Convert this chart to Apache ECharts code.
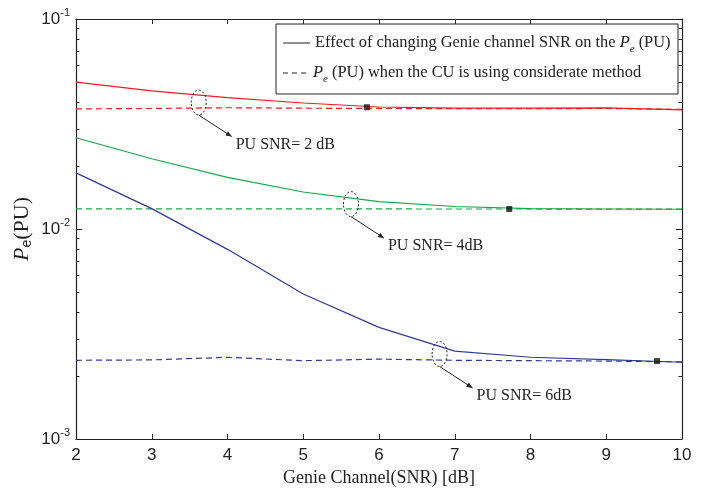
<!DOCTYPE html>
<html><head><meta charset="utf-8">
<script src="https://cdn.jsdelivr.net/npm/echarts@6/dist/echarts.min.js"></script>
<style>html,body{margin:0;padding:0;background:#fff}#c{width:704px;height:492px}</style>
</head><body><div id="c"></div>
<script>
// ---- data ----
const xValues   = [2, 3, 4, 5, 6, 7, 8, 9, 10];
const redSolid  = [0.0500, 0.0455, 0.0422, 0.0398, 0.0381, 0.0376, 0.0376, 0.0377, 0.0369];
const redDash   = [0.0373, 0.0375, 0.0378, 0.0376, 0.0375, 0.0374, 0.0374, 0.0375, 0.0371];
const greenSolid= [0.0272, 0.0216, 0.0176, 0.0150, 0.0135, 0.0128, 0.01250, 0.01245, 0.01242];
const greenDash = [0.01248, 0.01247, 0.01246, 0.01247, 0.01246, 0.01245, 0.01245, 0.01244, 0.01243];
const blueSolid = [0.0185, 0.0125, 0.0080, 0.0049, 0.0034, 0.00262, 0.00245, 0.00239, 0.00232];
const blueDash  = [0.00237, 0.00238, 0.00245, 0.00236, 0.00240, 0.00237, 0.00236, 0.00235, 0.00233];
const markerX   = [5.84, 7.72, 9.67];
const markerY   = [0.0380, 0.01245, 0.00235];
const yMinorTicks = [0.002,0.003,0.004,0.005,0.006,0.007,0.008,0.009,0.02,0.03,0.04,0.05,0.06,0.07,0.08,0.09];
const annoText  = ['PU SNR= 2 dB', 'PU SNR= 4dB', 'PU SNR= 6dB'];
const annoX     = [3.62, 5.63, 6.80];
const annoY     = [0.0400, 0.01314, 0.00254];
const legendText1 = 'Effect of changing Genie channel SNR on the ';
const legendText2 = ' when the CU is using considerate method';

const RED = '#ee1c25', GREEN = '#14a84a', BLUE = '#2e3a9a', INK = '#222';
const pair = (ys) => xValues.map((x, i) => [x, ys[i]]);

const chart = echarts.init(document.getElementById('c'), null, {renderer: 'canvas'});
const tickLbl = {color: INK, fontFamily: 'Liberation Sans', fontSize: 17};
function lineSeries(ys, color, dashed) {
  return {type: 'line', data: pair(ys), symbol: 'none', silent: true,
    lineStyle: {color: color, width: 1.2, type: dashed ? [6, 4] : 'solid'}, z: 3};
}
const yBase = {type: 'log', logBase: 10, min: 0.001, max: 0.1, gridIndex: 0, splitLine: {show: false}};
const option = {
  animation: false,
  grid: {left: 76, right: 22, top: 19, bottom: 53},
  xAxis: [
    {type: 'value', min: 2, max: 10, interval: 1, position: 'bottom',
     axisLine: {lineStyle: {color: INK, width: 1.2}}, splitLine: {show: false},
     axisTick: {inside: true, length: 5, lineStyle: {color: INK}},
     axisLabel: Object.assign({margin: 8}, tickLbl),
     name: 'Genie Channel(SNR) [dB]', nameLocation: 'middle', nameGap: 30,
     nameTextStyle: {color: INK, fontFamily: 'Liberation Serif', fontSize: 18}},
    {type: 'value', min: 2, max: 10, interval: 1, position: 'top',
     axisLine: {lineStyle: {color: INK, width: 1.2}}, splitLine: {show: false},
     axisTick: {inside: true, length: 5, lineStyle: {color: INK}}, axisLabel: {show: false}}
  ],
  yAxis: [
    Object.assign({}, yBase, {position: 'left', interval: 1,
      axisLine: {show: true, lineStyle: {color: INK, width: 1.2}},
      axisTick: {inside: true, length: 6, lineStyle: {color: INK}},
      axisLabel: {margin: 6, formatter: (v) => '{b|10}{s|' + Math.round(Math.log10(v)) + '}',
        rich: {b: tickLbl, s: {color: INK, fontFamily: 'Liberation Sans', fontSize: 11, padding: [0, 0, 12, 0]}}}}),
    Object.assign({}, yBase, {position: 'left', axisLine: {show: false},
      axisTick: {inside: true, length: 3.5, customValues: yMinorTicks, lineStyle: {color: INK}},
      axisLabel: {show: false}}),
    Object.assign({}, yBase, {position: 'right', interval: 1,
      axisLine: {show: true, lineStyle: {color: INK, width: 1.2}},
      axisTick: {inside: true, length: 6, lineStyle: {color: INK}}, axisLabel: {show: false}}),
    Object.assign({}, yBase, {position: 'right', axisLine: {show: false},
      axisTick: {inside: true, length: 3.5, customValues: yMinorTicks, lineStyle: {color: INK}},
      axisLabel: {show: false}})
  ],
  series: [
    lineSeries(redDash, RED, true), lineSeries(redSolid, RED, false),
    lineSeries(greenDash, GREEN, true), lineSeries(greenSolid, GREEN, false),
    lineSeries(blueDash, BLUE, true), lineSeries(blueSolid, BLUE, false),
    {type: 'scatter', data: markerX.map((x, i) => [x, markerY[i]]), symbol: 'rect', symbolSize: 6,
     itemStyle: {color: '#111'}, z: 5, silent: true}
  ]
};
chart.setOption(option);

const px = (x, y) => chart.convertToPixel({xAxisIndex: 0, yAxisIndex: 0}, [x, y]);
const g = [];
annoText.forEach((t, i) => {
  const [cx, cy] = px(annoX[i], annoY[i]);
  g.push({type: 'ellipse', shape: {cx: cx, cy: cy, rx: 7.5, ry: 12.5}, z: 20,
    style: {fill: 'none', stroke: INK, lineWidth: 1, lineDash: [2, 2]}});
  const x1 = cx, y1 = cy + 12.5, x2 = cx + 33, y2 = cy + 34;
  g.push({type: 'line', shape: {x1: x1, y1: y1, x2: x2, y2: y2}, z: 20, style: {stroke: INK, lineWidth: 1}});
  const a = Math.atan2(y2 - y1, x2 - x1), L = 6, W = 2.5;
  const bx = x2 - L * Math.cos(a), by = y2 - L * Math.sin(a);
  g.push({type: 'polygon', z: 20, shape: {points: [[x2, y2], [bx + W * Math.sin(a), by - W * Math.cos(a)], [bx - W * Math.sin(a), by + W * Math.cos(a)]]},
    style: {fill: INK}});
  g.push({type: 'text', x: cx + 37, y: cy + 42, z: 20,
    style: {text: t, font: '16px "Liberation Serif"', fill: INK, verticalAlign: 'middle'}});
});
// legend box
const serif = 'Liberation Serif';
const lgRich = {
  n: {fontFamily: serif, fontSize: 16.4, fill: INK},
  i: {fontFamily: serif, fontSize: 16.4, fontStyle: 'italic', fill: INK},
  sub: {fontFamily: serif, fontSize: 11, fontStyle: 'italic', fill: INK, padding: [12, 0, 0, 0]}
};
g.push({type: 'rect', shape: {x: 276, y: 24, width: 402, height: 70}, z: 30,
  style: {fill: '#fff', stroke: INK, lineWidth: 1}});
g.push({type: 'line', shape: {x1: 283, y1: 43, x2: 310, y2: 43}, z: 31, style: {stroke: INK, lineWidth: 1}});
g.push({type: 'line', shape: {x1: 283, y1: 73, x2: 310, y2: 73}, z: 31, style: {stroke: INK, lineWidth: 1, lineDash: [5, 4]}});
g.push({type: 'text', x: 315, y: 43, z: 31, style: {text: '{n|' + legendText1 + '}{i|P}{sub|e}{n| (PU)}', rich: lgRich, verticalAlign: 'middle'}});
g.push({type: 'text', x: 313, y: 73, z: 31, style: {text: '{i|P}{sub|e}{n| (PU)' + legendText2 + '}', rich: lgRich, verticalAlign: 'middle'}});
// y-axis title
g.push({type: 'text', x: 22, y: 229, rotation: Math.PI / 2, z: 31,
  style: {text: '{i|P}{s|e}{n|(PU)}', align: 'center', verticalAlign: 'middle',
    rich: {i: {fontFamily: serif, fontSize: 22, fontStyle: 'italic', fill: INK},
           s: {fontFamily: 'Liberation Sans', fontSize: 14, fill: INK, padding: [10, 0, 0, 0]},
           n: {fontFamily: serif, fontSize: 22, fill: INK}}}});
chart.setOption({graphic: g});
</script></body></html>
